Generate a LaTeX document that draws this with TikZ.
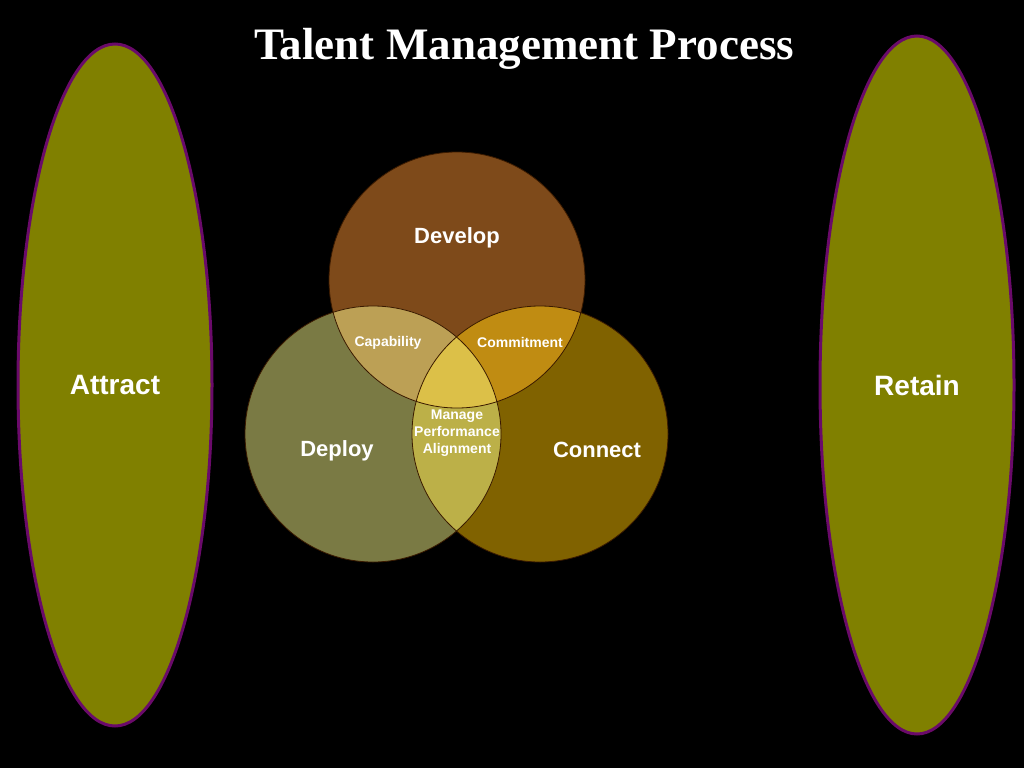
\documentclass[tikz,border=0pt]{standalone}
\usepackage{fontspec}
\setmainfont{Liberation Sans}
\newfontfamily\titlefont{Liberation Serif}
\usetikzlibrary{shapes.geometric}
\definecolor{olivefill}{HTML}{808000}
\definecolor{plumline}{HTML}{6A0A6A}
\definecolor{devcol}{HTML}{7E4A1A}
\definecolor{depcol}{HTML}{7A7A44}
\definecolor{concol}{HTML}{806200}
\definecolor{capcol}{HTML}{BCA055}
\definecolor{comcol}{HTML}{C08C12}
\definecolor{dccol}{HTML}{BCB048}
\definecolor{midcol}{HTML}{DCC048}
\definecolor{rimcol}{HTML}{3A1A00}

\begin{document}
\begin{tikzpicture}[x=1pt, y=-1pt,
  side/.style={ellipse, draw=plumline, line width=3pt, fill=olivefill, inner sep=0pt,
    text=white, font=\fontsize{28}{32}\selectfont\bfseries},
  big/.style={text=white, font=\fontsize{22}{26}\selectfont\bfseries},
  small/.style={text=white, align=center, inner sep=0pt, font=\fontsize{14}{17}\selectfont\bfseries},
  rim/.style={draw=rimcol, line width=0.8pt}]
  \fill[black] (0,0) rectangle (1024,768);
  \useasboundingbox (0,0) rectangle (1024,768);
  \node[text=white, font=\fontsize{45}{50}\selectfont\titlefont\bfseries] (title) at (524,49) {Talent Management Process};
  \node[side, minimum width=194pt, minimum height=682pt] (attract) at (115,385) {Attract};
  \node[side, minimum width=194pt, minimum height=698pt] (retain) at (917,385) {Retain};
  % circle centres
  \coordinate (dev) at (457,280);
  \coordinate (dep) at (373,434);
  \coordinate (con) at (540,434);
  \fill[devcol] (dev) circle[radius=128pt];
  \fill[depcol] (dep) circle[radius=128pt];
  \fill[concol] (con) circle[radius=128pt];
  \begin{scope}
    \clip (dev) circle[radius=128pt];
    \fill[capcol] (dep) circle[radius=128pt];
    \fill[comcol] (con) circle[radius=128pt];
  \end{scope}
  \begin{scope}
    \clip (dep) circle[radius=128pt];
    \fill[dccol] (con) circle[radius=128pt];
    \clip (dev) circle[radius=128pt];
    \fill[midcol] (con) circle[radius=128pt];
  \end{scope}
  \draw[rim] (dev) circle[radius=128pt];
  \draw[rim] (dep) circle[radius=128pt];
  \draw[rim] (con) circle[radius=128pt];
  \node[big] (develop) at (457,238) {Develop};
  \node[big] (deploy) at (337,451) {Deploy};
  \node[big] (connect) at (597,450) {Connect};
  \node[small] (capability) at (388,343) {Capability};
  \node[small] (commitment) at (520,342) {Commitment};
  \node[small] (manage) at (457,433) {Manage\\Performance\\Alignment};
\end{tikzpicture}
\end{document}
